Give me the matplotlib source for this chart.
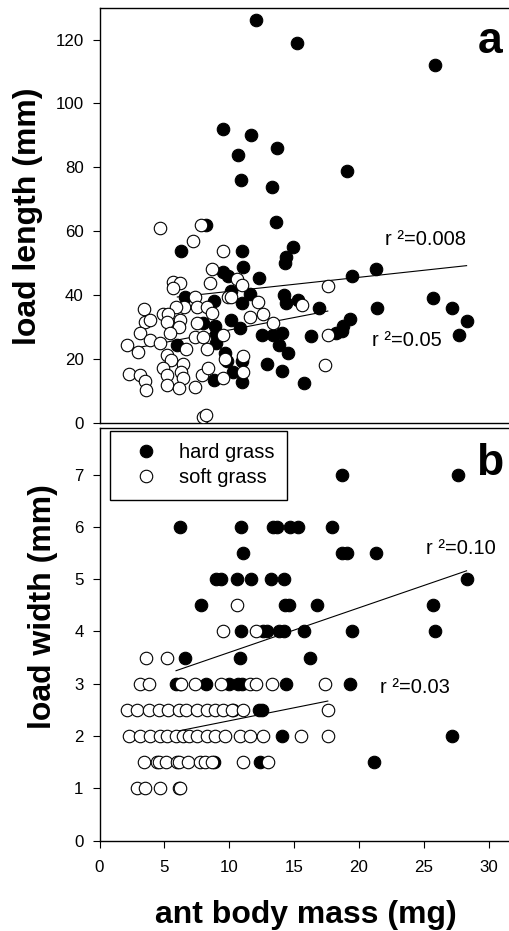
import matplotlib
matplotlib.use("Agg")
import matplotlib.pyplot as plt
from matplotlib.lines import Line2D

plt.rcParams["font.family"] = ["Liberation Sans", "DejaVu Sans"]

# panel a: load length (mm) vs ant body mass (mg)
hard_mass_a = [12.1, 15.2, 25.9, 9.5, 11.7, 13.7, 10.7, 19.1, 10.9, 13.3,
               13.6, 8.2, 6.3, 11.0, 14.9, 14.4, 14.3, 11.1, 12.3, 9.5,
               9.9, 19.5, 21.3, 6.6, 8.8, 10.1, 11.0, 11.6, 14.2, 14.4,
               15.3, 16.9, 21.4, 25.7, 27.2, 28.3, 27.7, 10.1, 10.8, 8.9,
               8.0, 9.0, 9.0, 12.5, 14.1, 13.8, 14.5, 16.3, 18.8, 19.3,
               18.7, 18.2, 12.9, 14.1, 15.8, 8.8, 10.3, 11.0, 6.0, 9.8,
               11.0, 9.7, 13.4]
hard_len_a = [126, 119, 112, 92, 90, 86, 84, 79, 76, 74,
              63, 62, 54, 54, 55, 52, 50, 49, 45.5, 47.3,
              46.2, 46, 48.4, 39.4, 38.3, 41.3, 37.5, 40.5, 40, 37.5,
              38.5, 36.1, 36.1, 39.2, 36.1, 32.1, 27.6, 32.3, 29.7, 30.5,
              31.3, 28, 25, 27.6, 28.1, 24.5, 22.1, 27.3, 30.4, 32.6,
              28.9, 28.1, 18.5, 16.4, 12.5, 13.7, 16.1, 13.0, 24.5, 19.5,
              19.5, 21.9, 27.6]

soft_mass_a = [4.7, 7.8, 7.2, 9.5, 8.7, 10.6, 11.0, 8.5, 5.7, 6.2,
               5.7, 7.4, 9.9, 17.6, 15.6, 17.6, 17.4, 13.4, 10.1, 12.2,
               6.5, 5.9, 7.5, 8.3, 8.7, 3.4, 3.5, 3.9, 4.9, 5.3,
               5.2, 6.2, 6.1, 5.4, 7.5, 9.5, 11.6, 12.6, 3.1, 3.9,
               2.1, 3.0, 4.7, 7.4, 8.0, 6.7, 8.3, 5.2, 5.5, 9.7,
               11.1, 6.4, 2.3, 3.1, 3.5, 3.6, 4.9, 5.2, 5.2, 6.3,
               6.4, 6.1, 7.4, 7.9, 8.4, 9.5, 11.1, 8.0, 8.2]
soft_len_a = [61, 62, 57, 54, 48.1, 45.1, 43.2, 44, 44.2, 44,
              42.2, 39.6, 39.6, 42.9, 37, 27.6, 18.2, 31.3, 39.4, 38,
              36.4, 36.4, 36.4, 36.4, 34.4, 35.9, 31.8, 32.3, 34.2, 34.2,
              31.8, 32.3, 30, 28.3, 31.3, 27.6, 33.3, 34.2, 28.3, 26,
              24.5, 22.4, 25, 27, 27, 23.1, 23.1, 21.3, 19.8, 20,
              21, 18.7, 15.3, 15.1, 13.3, 10.4, 17.2, 15.1, 12, 16.1,
              14.1, 10.9, 11.4, 15.1, 17.2, 14.1, 16.1, 2.1, 2.6]

# panel b: load width (mm) vs ant body mass (mg)
hard_mass_b = [18.7, 27.6,
               6.2, 10.9, 13.4, 13.7, 14.7, 15.3, 17.9,
               11.1, 18.7, 19.1, 21.3,
               9.0, 9.4, 10.6, 11.7, 13.2, 14.2, 28.3,
               7.8, 14.3, 14.6, 16.8, 25.7,
               10.9, 12.6, 12.9, 13.8, 14.2, 15.8, 19.5, 25.9,
               6.6, 10.8, 16.2,
               5.9, 6.2, 8.2, 10.0, 10.7, 11.0, 14.4, 19.3,
               10.3, 12.3, 12.5,
               14.1, 27.2,
               8.8, 12.4, 21.2]
hard_wid_b = [7, 7,
              6, 6, 6, 6, 6, 6, 6,
              5.5, 5.5, 5.5, 5.5,
              5, 5, 5, 5, 5, 5, 5,
              4.5, 4.5, 4.5, 4.5, 4.5,
              4, 4, 4, 4, 4, 4, 4, 4,
              3.5, 3.5, 3.5,
              3, 3, 3, 3, 3, 3, 3, 3,
              2.5, 2.5, 2.5,
              2, 2,
              1.5, 1.5, 1.5]

soft_mass_b = [10.6,
               9.5, 12.1,
               3.6, 5.2,
               3.1, 3.8, 6.3, 7.4, 9.4, 11.6, 12.1, 13.3, 17.4,
               2.1, 2.9, 3.8, 4.6, 5.3, 6.1, 6.7, 7.5, 8.3, 8.9, 9.5, 10.2, 11.1, 17.6,
               2.3, 3.1, 3.9, 4.7, 5.2, 5.9, 6.4, 6.9, 7.5, 8.3, 8.9, 9.7, 10.8, 11.6,
               12.6, 15.5, 17.6,
               3.4, 4.4, 4.6, 5.1, 6.0, 6.1, 6.8, 7.75, 8.1, 8.65, 11.1, 13.0,
               2.9, 3.5, 4.7, 6.1, 6.2]
soft_wid_b = [4.5,
              4, 4,
              3.5, 3.5,
              3, 3, 3, 3, 3, 3, 3, 3, 3,
              2.5, 2.5, 2.5, 2.5, 2.5, 2.5, 2.5, 2.5, 2.5, 2.5, 2.5, 2.5, 2.5, 2.5,
              2, 2, 2, 2, 2, 2, 2, 2, 2, 2, 2, 2, 2, 2,
              2, 2, 2,
              1.5, 1.5, 1.5, 1.5, 1.5, 1.5, 1.5, 1.5, 1.5, 1.5, 1.5, 1.5,
              1, 1, 1, 1, 1]

# regression lines (end points)
hard_fit_a_x, hard_fit_a_y = [6.0, 28.3], [39.5, 49.3]
soft_fit_a_x, soft_fit_a_y = [2.1, 17.6], [23.0, 35.1]
hard_fit_b_x, hard_fit_b_y = [5.9, 28.3], [3.25, 5.16]
soft_fit_b_x, soft_fit_b_y = [2.1, 17.6], [1.9, 2.67]

fig = plt.figure(figsize=(5.09, 9.31), dpi=100)
ax1 = fig.add_axes([0.1955, 0.5453, 0.8045, 0.4466])
ax2 = fig.add_axes([0.1955, 0.0970, 0.8045, 0.4430])

msize = 81
for ax in (ax1, ax2):
    ax.set_xlim(0, 31.57)
    ax.spines["right"].set_visible(False)
    for s in ("left", "top", "bottom"):
        ax.spines[s].set_linewidth(1.0)
    ax.tick_params(direction="out", length=5, width=0.8, labelsize=12.2, pad=6.5)

# panel a
ax1.plot(hard_fit_a_x, hard_fit_a_y, color="black", lw=0.8, zorder=1)
ax1.plot(soft_fit_a_x, soft_fit_a_y, color="black", lw=0.8, zorder=1)
ax1.scatter(hard_mass_a, hard_len_a, s=msize, c="black", edgecolors="black", linewidths=0.8, zorder=2)
ax1.scatter(soft_mass_a, soft_len_a, s=msize, c="white", edgecolors="black", linewidths=0.8, zorder=3)
ax1.set_ylim(0, 130)
ax1.set_yticks([0, 20, 40, 60, 80, 100, 120])
ax1.set_xticks([])
ax1.text(22.0, 55.7, "r ²=0.008", fontsize=14.5, va="baseline")
ax1.text(21.0, 24.3, "r ²=0.05", fontsize=14.5, va="baseline")
ax1.text(31.1, 115.9, "a", fontsize=32, fontweight="bold", ha="right", va="baseline")

# panel b
ax2.plot(hard_fit_b_x, hard_fit_b_y, color="black", lw=0.8, zorder=1)
ax2.plot(soft_fit_b_x, soft_fit_b_y, color="black", lw=0.8, zorder=1)
ax2.scatter(hard_mass_b, hard_wid_b, s=msize, c="black", edgecolors="black", linewidths=0.8, zorder=2)
ax2.scatter(soft_mass_b, soft_wid_b, s=msize, c="white", edgecolors="black", linewidths=0.8, zorder=3)
ax2.set_ylim(0, 7.885)
ax2.set_yticks(range(0, 8))
ax2.set_xticks([0, 5, 10, 15, 20, 25, 30])
ax2.tick_params(axis="x", pad=9)
ax2.text(25.2, 5.48, "r ²=0.10", fontsize=14.5, va="baseline")
ax2.text(21.6, 2.83, "r ²=0.03", fontsize=14.5, va="baseline")
ax2.text(31.1, 6.99, "b", fontsize=32, fontweight="bold", ha="right", va="baseline")

handles = [
    Line2D([], [], marker="o", ls="none", ms=9, mfc="black", mec="black", mew=0.8),
    Line2D([], [], marker="o", ls="none", ms=9, mfc="white", mec="black", mew=0.8),
]
leg = ax2.legend(handles, ["hard grass", "soft grass"], loc="upper left",
                 bbox_to_anchor=(0.0256, 0.994), borderaxespad=0, fontsize=14.5,
                 fancybox=False, framealpha=1, edgecolor="black",
                 handlelength=2.3, handletextpad=0.53, borderpad=0.62,
                 labelspacing=0.3)
leg.get_frame().set_linewidth(1.0)
leg.set_zorder(5)

fig.text(28 / 509, 1 - 216 / 931, "load length (mm)", rotation=90, fontsize=23,
         fontweight="bold", ha="center", va="center")
fig.text(43 / 509, 1 - 607 / 931, "load width (mm)", rotation=90, fontsize=23,
         fontweight="bold", ha="center", va="center")
fig.text(306 / 509, 1 - 923 / 931, "ant body mass (mg)", fontsize=23,
         fontweight="bold", ha="center", va="baseline")

fig.savefig("out.png", dpi=100)
